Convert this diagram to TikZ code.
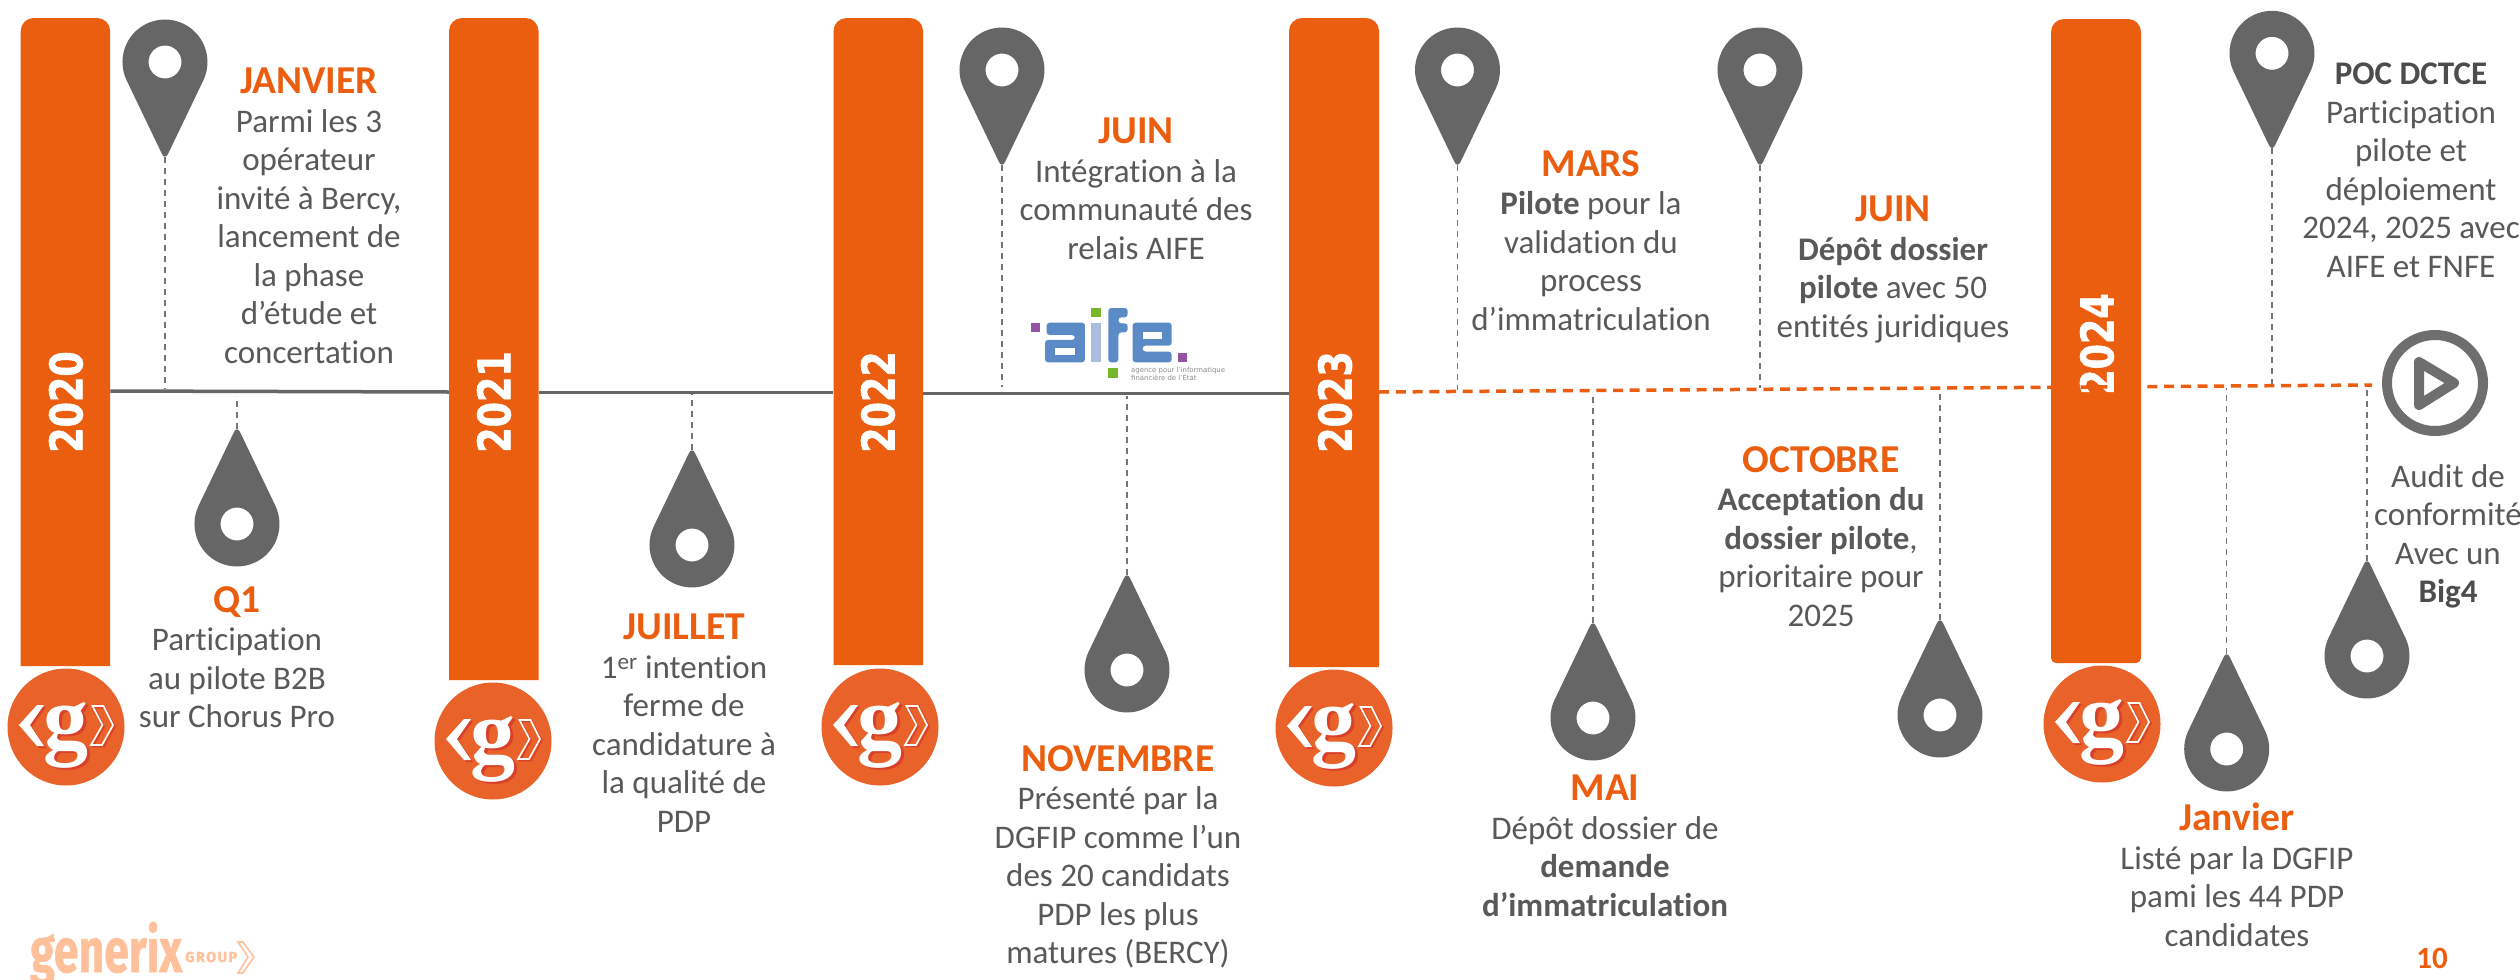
\documentclass[tikz,border=0pt]{standalone}
\usepackage{fontspec}
\usepackage{graphicx}
\setmainfont{Carlito}[Ligatures=NoCommon]
\newfontfamily\yearfont{DejaVu Sans}[BoldFeatures={FakeBold=1.6}]
\newfontfamily\gfont{Liberation Serif}
\newfontfamily\brandfont{Fira Sans}[BoldFeatures={FakeBold=1}]
\newfontfamily\smallfont{DejaVu Sans}
\definecolor{barorange}{HTML}{EB5E0F}
\definecolor{logoorange}{HTML}{E8622A}
\definecolor{logored}{HTML}{D9402A}
\definecolor{pingray}{HTML}{666666}
\definecolor{txtgray}{HTML}{595959}
\definecolor{boldgray}{HTML}{4D4D4D}
\definecolor{brandpeach}{HTML}{FFC09A}
\definecolor{aifeblue}{HTML}{5B8BC6}
\definecolor{aifelight}{HTML}{A9BDDD}
\definecolor{aifegreen}{HTML}{76B82A}
\definecolor{aifepurple}{HTML}{95549F}
\tikzset{
  lab/.style={anchor=north,inner sep=0pt,align=center,text=txtgray,font=\fontsize{33}{38.5}\selectfont},
  leader/.style={draw=pingray!90,line width=1.4pt,dash pattern=on 6pt off 5pt},
  solidline/.style={draw=pingray,line width=3.5pt},
  planline/.style={draw=barorange,line width=3.5pt,dash pattern=on 10pt off 6.7pt},
  yearlab/.style={rotate=90,inner sep=0pt,text=white,font=\yearfont\bfseries\fontsize{45}{45}\selectfont},
}
\newcommand{\ttl}[1]{{\fontsize{39.5}{38.5}\selectfont\bfseries\color{barorange}#1}}
\newcommand{\pinmark}[4]{%
  \begin{scope}[shift={(#2,#3)},yscale=#4]
    \fill[pingray,even odd rule] (38.5,18) arc[start angle=-25,end angle=205,radius=42.5pt]
      -- (-3,92) .. controls (-1.5,95.5) and (1.5,95.5) .. (3,92) -- cycle
      (0,0) circle[radius=16.5pt];
    \coordinate (#1) at (0,95);
  \end{scope}}
\newcommand{\yearbar}[8]{%
  \fill[barorange,rounded corners=13pt] (#2,300) -- (#2,#4) -- (#3,#4) -- (#3,300)
     [rounded corners=#8pt] -- (#3,#5) -- (#2,#5) -- cycle;
  \node[inner sep=0pt,minimum width=#3pt-#2pt,minimum height=#5pt-#4pt] (#1) at ({(#2+#3)/2},{(#4+#5)/2}) {};
  \node[yearlab] (#1t) at (#6,#7) {\scalebox{.81}[1]{\the\year}};}
\newcommand{\glogo}[3]{%
  \begin{scope}[shift={(#2,#3)}]
    \node[circle,fill=logoorange,minimum size=117pt,inner sep=0pt] (#1) at (0,0) {};
    \fill[logored] (-27,-20) -- (-45,0) -- (-27,21) -- (-20,21) -- (-34,0) -- (-20,-20) -- cycle;
    \fill[white] (-29,-22) -- (-47,-2) -- (-29,19) -- (-22,19) -- (-36,-2) -- (-22,-22) -- cycle;
    \draw[logored,line width=1.6pt] (28,-19.5) -- (39,-19.5) -- (49,-0.5) -- (38,19.5) -- (27,19.5) -- (38,-0.5) -- cycle;
    \draw[white,line width=1.6pt,line join=miter] (26.5,-21) -- (37.5,-21) -- (47,-2) -- (36,18) -- (25,18) -- (36.5,-2) -- cycle;
    \node[inner sep=0pt,text=logored,font=\gfont\bfseries\fontsize{90}{90}\selectfont] (#1s) at (3,10) {g};
    \node[inner sep=0pt,text=white,font=\gfont\bfseries\fontsize{90}{90}\selectfont] (#1g) at (0,8) {g};
  \end{scope}}
\begin{document}
\begin{tikzpicture}[x=1pt,y=-1pt]
\useasboundingbox (0,0) rectangle (2520,980);
\fill[white] (0,0) rectangle (2520,980);
% bars
\year=2020 \yearbar{bA}{20.7}{110.2}{18}{666}{66}{402}{0.01}
\year=2021 \yearbar{bB}{449}{538.5}{18}{680}{494}{402}{0.01}
\year=2022 \yearbar{bC}{833.5}{923}{18}{665}{878}{402}{0.01}
\year=2023 \yearbar{bD}{1289}{1379}{18}{667}{1335}{402}{0.01}
\year=2024 \yearbar{bE}{2051}{2141}{19}{663}{2097}{344}{5}
% timeline coordinates
\coordinate (lA) at (bA.east |- 0,391);
\coordinate (lB) at (bB.west |- 0,392);
\coordinate (lC) at (bB.east |- 0,392.5);
\coordinate (lD) at (bC.west |- 0,392.5);
\coordinate (lE) at (bC.east |- 0,393.3);
\coordinate (lF) at (bD.west |- 0,393.3);
\coordinate (lG) at (bD.east |- 0,392);
\draw[solidline] (lA) -- (lB);
\draw[solidline] (lC) -- (lD);
\draw[solidline] (lE) -- (lF);
% play icon
\node[circle,draw=pingray!95,line width=10pt,minimum size=96pt,inner sep=0pt] (play) at (2435,383) {};
\draw[draw=pingray!95,line width=10pt,line join=round] (2419,362) -- (2454,383) -- (2419,405) -- cycle;
\coordinate (lH) at (2372,385);
\draw[planline] (lG) -- (lH);
% pins
\pinmark{pA}{165}{62}{1}
\pinmark{pB}{237}{524}{-1}
\pinmark{pC}{692}{545}{-1}
\pinmark{pD}{1002}{70}{1}
\pinmark{pE}{1127}{670}{-1}
\pinmark{pF}{1457.5}{70}{1}
\pinmark{pG}{1760}{70}{1}
\pinmark{pH}{1593}{718}{-1}
\pinmark{pI}{1940}{715}{-1}
\pinmark{pJ}{2226.7}{749}{-1}
\pinmark{pK}{2272}{53.3}{1}
\pinmark{pL}{2367}{656}{-1}
\coordinate (qA) at (165,389);
\coordinate (qB) at (237,396);
\coordinate (qC) at (692,394);
\coordinate (qD) at (1002,387);
\coordinate (qE) at (1127,396);
\coordinate (qF) at (1457.5,390);
\coordinate (qG) at (1760,388);
\coordinate (qH) at (1593,392);
\coordinate (qI) at (1940,390);
\coordinate (qJ) at (2226.7,388);
\coordinate (qK) at (2272,384);
\coordinate (qL) at (2367,387);
\foreach \a in {A,...,L} {\draw[leader] (p\a) -- (q\a);}
% logos
\glogo{gA}{66}{727}
\glogo{gB}{493}{741}
\glogo{gC}{880}{727}
\glogo{gD}{1334}{728}
\glogo{gE}{2102}{724}
% texts
\node[lab] (tA) at (309,68) {\ttl{JANVIER}\\Parmi les 3\\opérateur\\invité à Bercy,\\lancement de\\la phase\\d’étude et\\concertation};
\node[lab] (tB) at (237,586) {\ttl{Q1}\\Participation\\au pilote B2B\\sur Chorus Pro};
\node[lab] (tC) at (684,614) {\ttl{JUILLET}\\1\textsuperscript{er} intention\\ferme de\\candidature à\\la qualité de\\PDP};
\node[lab] (tD) at (1136,118) {\ttl{JUIN}\\Intégration à la\\communauté des\\relais AIFE};
\node[lab] (tE) at (1118,745) {\ttl{NOVEMBRE}\\Présenté par la\\DGFIP comme l’un\\des 20 candidats\\PDP les plus\\matures (BERCY)};
\node[lab] (tF) at (1591,150) {\ttl{MARS}\\\textbf{Pilote} pour la\\validation du\\process\\d’immatriculation};
\node[lab] (tG) at (1893,196) {\ttl{JUIN}\\\textbf{Dépôt dossier}\\\textbf{pilote} avec 50\\entités juridiques};
\node[lab] (tH) at (1605,775) {\ttl{MAI}\\Dépôt dossier de\\\textbf{demande}\\\textbf{d’immatriculation}};
\node[lab] (tI) at (1821,446) {\ttl{OCTOBRE}\\\textbf{Acceptation du}\\\textbf{dossier pilote},\\prioritaire pour\\2025};
\node[lab] (tJ) at (2237,803) {\ttl{Janvier}\\Listé par la DGFIP\\pami les 44 PDP\\candidates};
\node[lab] (tK) at (2411,63) {\textbf{\textcolor{boldgray}{POC DCTCE}}\\Participation\\pilote et\\déploiement\\2024, 2025 avec\\AIFE et FNFE};
\node[lab] (tL) at (2448,464) {Audit de\\conformité\\Avec un\\\textbf{\textcolor{boldgray}{Big4}}};
\node[inner sep=0pt,text=barorange,font=\fontsize{31}{31}\selectfont\bfseries] (page) at (2432,958) {10};
% AIFE logo
\begin{scope}[shift={(950,280)},x=0.3333pt,y=-0.3333pt]
  \fill[aifepurple] (243,130) rectangle (270,157);
  \fill[aifegreen] (423,84) rectangle (452,112);
  \fill[aifeblue,rounded corners=3pt] (290,128) -- (405,128) -- (405,247) -- (285,247) -- (285,180) -- (375,180) -- (375,165) -- (290,165) -- cycle;
  \fill[white] (315,203) rectangle (375,225);
  \fill[aifelight] (423,128) rectangle (452,247);
  \fill[aifeblue,rounded corners=3pt] (475,247) -- (475,84) -- (533,84) -- (533,112) -- (505,112) -- (505,130) -- (533,130) -- (533,157) -- (505,157) -- (505,247) -- cycle;
  \fill[aifeblue,rounded corners=3pt] (548,128) -- (665,128) -- (665,197) -- (578,197) -- (578,215) -- (665,215) -- (665,247) -- (548,247) -- cycle;
  \fill[white] (578,157) rectangle (635,178);
  \fill[aifepurple] (683,220) rectangle (710,247);
  \fill[aifegreen] (475,265) rectangle (505,293);
  \node[anchor=north west,inner sep=0pt,align=left,text=black!45,font=\smallfont\fontsize{6.9}{6}\selectfont] (aifesub) at (543,260) {agence pour l’informatique\\financière de l’État};
\end{scope}
% generix brand
\node[anchor=base west,inner sep=0pt,text=brandpeach,font=\brandfont\bfseries\fontsize{62}{62}\selectfont] (brand) at (30,972) {\scalebox{.72}[1]{generix}};
\node[anchor=base west,inner sep=0pt,text=brandpeach,font=\brandfont\fontsize{14.5}{14.5}\selectfont\bfseries] (brandg) at (185,962) {\addfontfeature{LetterSpace=10}GROUP};
\draw[brandpeach,line width=1.6pt] (238,942) -- (243,942) -- (254,957) -- (243,973) -- (238,973) -- (248,957) -- cycle;
\end{tikzpicture}
\end{document}
